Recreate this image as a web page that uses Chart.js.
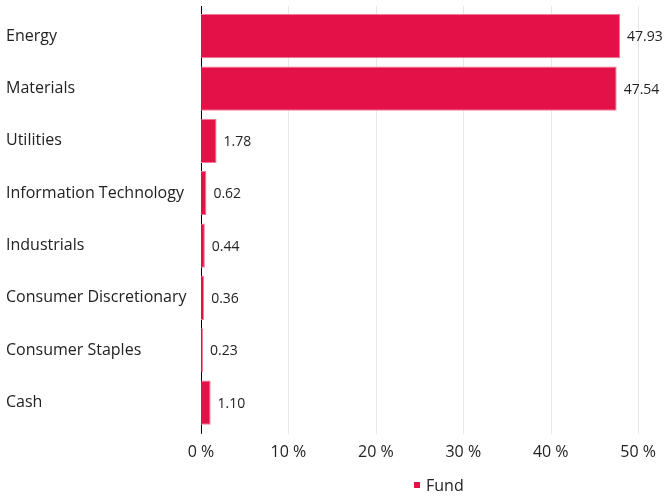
<!DOCTYPE html>
<html>
<head>
<meta charset="utf-8">
<script src="https://cdn.jsdelivr.net/npm/chart.js@4"></script>
<style>
  html, body { margin: 0; padding: 0; background: #fff; }
  #wrap { width: 670px; height: 499px; }
</style>
</head>
<body>
<div id="wrap"><canvas id="sectors"></canvas></div>
<script>
// sector weights
const sectors = [
    "Energy",
    "Materials",
    "Utilities",
    "Information Technology",
    "Industrials",
    "Consumer Discretionary",
    "Consumer Staples",
    "Cash",
];
const fundWeights = [47.93, 47.54, 1.78, 0.62, 0.44, 0.36, 0.23, 1.10];
const xTicks = [0, 10, 20, 30, 40, 50];
const seriesName = "Fund";

const FONT = "'Open Sans', 'Noto Sans', sans-serif";
const BAR_COLOR = "#e31148";

/** Grid + axis line run a few px past the category bands (as in the original) */
const longGrid = {
    id: "longGrid",
    beforeDatasetsDraw(chart) {
        const { ctx, chartArea } = chart;
        const xs = chart.scales.x;
        const top = chartArea.top - 4;
        const bottom = chartArea.bottom + 5;
        ctx.save();
        ctx.lineWidth = 1;
        ctx.strokeStyle = "#e8e8e8";
        xTicks.slice(1).forEach((v) => {
            const x = Math.round(xs.getPixelForValue(v)) + 0.5;
            ctx.beginPath();
            ctx.moveTo(x, top);
            ctx.lineTo(x, bottom);
            ctx.stroke();
        });
        ctx.strokeStyle = "#000";
        const x0 = Math.round(xs.getPixelForValue(0)) + 0.5;
        ctx.beginPath();
        ctx.moveTo(x0, top);
        ctx.lineTo(x0, bottom);
        ctx.stroke();
        ctx.restore();
    },
};

/** Draw the value right after each bar */
const valueLabels = {
    id: "valueLabels",
    afterDatasetsDraw(chart) {
        const { ctx } = chart;
        const meta = chart.getDatasetMeta(0);
        ctx.save();
        ctx.font = Chart.helpers.toFont({ family: FONT, size: 14 }).string;
        ctx.fillStyle = "#222";
        ctx.textBaseline = "middle";
        ctx.textAlign = "left";
        meta.data.forEach((bar, i) => {
            ctx.fillText(fundWeights[i].toFixed(2), bar.x + 7, bar.y + 1);
        });
        ctx.restore();
    },
};

/** Small legend below the axis, a bit right of centre like the original */
const bottomLegend = {
    id: "bottomLegend",
    afterDraw(chart) {
        const { ctx } = chart;
        const y = chart.height - 14;
        const x = 414;
        ctx.save();
        ctx.fillStyle = BAR_COLOR;
        ctx.fillRect(x, y - 3, 6, 6);
        ctx.font = Chart.helpers.toFont({ family: FONT, size: 16 }).string;
        ctx.fillStyle = "#222";
        ctx.textBaseline = "middle";
        ctx.textAlign = "left";
        ctx.fillText(seriesName, x + 12, y + 1);
        ctx.restore();
    },
};

new Chart(document.getElementById("sectors"), {
    type: "bar",
    data: {
        labels: sectors,
        datasets: [
            {
                label: seriesName,
                data: fundWeights,
                backgroundColor: BAR_COLOR,
                borderColor: "#f07a98",
                borderWidth: 1,
                borderSkipped: "left",
                barPercentage: 0.845,
                categoryPercentage: 1,
            },
        ],
    },
    options: {
        indexAxis: "y",
        responsive: true,
        maintainAspectRatio: false,
        animation: false,
        layout: { padding: { top: 10, right: 29, left: 6, bottom: 23 } },
        scales: {
            x: {
                min: 0,
                max: 50,
                afterBuildTicks(axis) {
                    axis.ticks = xTicks.map((v) => ({ value: v }));
                },
                ticks: {
                    callback: (v) => v + " %",
                    color: "#222",
                    font: { family: FONT, size: 16 },
                    padding: 14,
                },
                grid: { display: false, drawTicks: false },
                border: { display: false },
            },
            y: {
                afterFit(axis) {
                    axis.width = 195;
                    // category labels sit mid-band, no extra room needed
                    axis.paddingTop = 0;
                    axis.paddingBottom = 0;
                },
                ticks: {
                    crossAlign: "far",
                    color: "#222",
                    font: { family: FONT, size: 16 },
                    padding: 8,
                },
                grid: { display: false, drawTicks: false },
                border: { display: false },
            },
        },
        plugins: {
            legend: { display: false },
            tooltip: { enabled: false },
        },
    },
    plugins: [longGrid, valueLabels, bottomLegend],
});
</script>
</body>
</html>
